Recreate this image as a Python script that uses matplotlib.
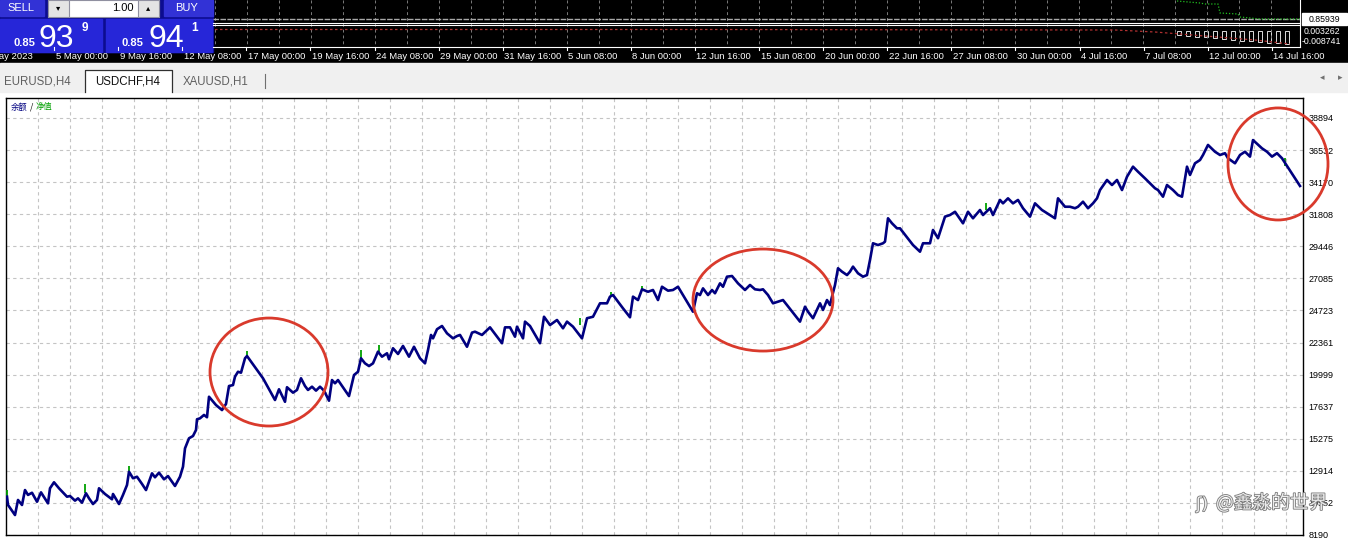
import matplotlib.pyplot as plt
import matplotlib.patheffects as pe
from matplotlib.patches import Rectangle, Ellipse
import numpy as np

W, H = 1348, 539
CJK = ['Noto Sans CJK SC', 'DejaVu Sans']
plt.rcParams['font.family'] = ['Liberation Sans', 'DejaVu Sans']

# balance curve (trade number, balance)
trade_no = [1, 2, 9, 12, 16, 19, 22, 26, 31, 35, 42, 44, 48, 53, 61, 64, 69, 72, 76, 80,
            83, 87, 91, 93, 99, 106, 107, 113, 117, 121, 123, 127, 131, 136, 140, 146, 149, 153, 158, 162,
            166, 169, 174, 177, 179, 183, 187, 190, 191, 194, 198, 201, 203, 210, 216, 220, 223, 227, 229, 232,
            235, 239, 241, 257, 269, 273, 279, 281, 287, 291, 295, 299, 302, 306, 310, 314, 318, 323, 326, 329,
            332, 337, 343, 348, 352, 355, 359, 363, 367, 372, 376, 381, 383, 387, 392, 397, 403, 408, 414, 419,
            422, 425, 427, 431, 436, 441, 447, 451, 454, 461, 466, 469, 476, 484, 496, 499, 504, 509, 511, 517,
            519, 524, 534, 538, 544, 551, 557, 561, 567, 576, 581, 587, 594, 601, 604, 607, 617, 624, 627, 632,
            636, 642, 647, 652, 656, 662, 667, 672, 687, 691, 694, 697, 702, 706, 709, 714, 717, 721, 726, 732,
            739, 744, 749, 754, 757, 762, 767, 772, 777, 781, 794, 799, 802, 807, 814, 817, 821, 824, 826, 829,
            832, 836, 841, 844, 847, 852, 857, 861, 864, 867, 872, 877, 879, 882, 886, 891, 894, 907, 914, 917,
            924, 927, 932, 939, 944, 949, 957, 962, 967, 974, 977, 984, 987, 994, 997, 1002, 1007, 1012, 1017, 1024,
            1029, 1036, 1044, 1049, 1052, 1059, 1064, 1069, 1072, 1077, 1082, 1087, 1091, 1094, 1101, 1106, 1111, 1116, 1121, 1127,
            1132, 1139, 1149, 1152, 1157, 1161, 1167, 1172, 1176, 1181, 1184, 1189, 1194, 1197, 1202, 1209, 1214, 1219, 1222, 1229,
            1234, 1239, 1244, 1247, 1256, 1261, 1266, 1271, 1276, 1294]
balance = [11010, 10400, 9660, 10770, 10400, 11500, 11140, 11300, 10640, 11330, 10520, 11630, 12070, 11630, 11010, 11060, 10720, 10890, 10570, 11260,
           10890, 10470, 10770, 11630, 11210, 10820, 11210, 10470, 11140, 11870, 12850, 12370, 12480, 11950, 11500, 12730, 12440, 12780, 12290, 12530,
           12110, 11800, 12480, 13220, 14570, 15310, 15480, 15920, 16710, 16780, 17030, 16860, 18370, 17760, 17390, 17840, 19160, 19230, 19850, 20210,
           20140, 21200, 21370, 19730, 18130, 18920, 18000, 19070, 18670, 18870, 19730, 19160, 18870, 19110, 18820, 19110, 18820, 18080, 19600, 19360,
           19600, 19070, 18420, 19970, 20210, 21200, 20830, 20630, 20830, 21690, 21320, 21570, 21130, 21940, 21520, 22110, 21320, 22050, 21200, 20830,
           21810, 22920, 22670, 23340, 23580, 23040, 22670, 22840, 22920, 22050, 23090, 23160, 22920, 23480, 22310, 23480, 23480, 22790, 23530, 22670,
           23900, 23580, 22310, 24260, 23650, 24020, 23410, 23900, 23530, 22670, 24150, 24260, 25250, 25250, 25740, 25860, 24880, 24220, 25740, 25490,
           26280, 26100, 26230, 25490, 26470, 26180, 26230, 26470, 24630, 25990, 25860, 26350, 25860, 26230, 25990, 26720, 26470, 27210, 27260, 26720,
           26230, 26600, 26280, 26230, 26280, 25860, 25250, 25370, 25490, 25120, 23900, 25000, 24630, 24150, 25250, 24760, 25490, 25120, 25740, 26600,
           27830, 27580, 27330, 27580, 27950, 27460, 27210, 27330, 28440, 29670, 29540, 29670, 29790, 31510, 31140, 30770, 30770, 29540, 29050, 29670,
           29670, 30650, 30040, 31630, 31750, 31990, 31140, 31990, 31510, 32120, 31750, 32250, 31750, 32860, 32610, 32980, 32610, 32860, 32250, 31630,
           32610, 32120, 31750, 31510, 32980, 32360, 32360, 32250, 32360, 32730, 32250, 32610, 32980, 33590, 34330, 33960, 34330, 33590, 34570, 35310,
           34940, 34450, 33720, 33590, 33100, 33960, 33590, 33220, 33100, 35310, 34700, 35560, 35800, 36170, 36910, 36410, 36170, 36300, 35930, 35560,
           36170, 36410, 36050, 37270, 36660, 36410, 36050, 36300, 35930, 33890]

# equity peaks above balance (green)
spike_no = [1, 79, 123, 241, 355, 373, 574, 605, 636, 980, 1279]
spike_lo = [10920, 11290, 12830, 21300, 21220, 21660, 23650, 25710, 26230, 32120, 35360]
spike_hi = [11500, 11950, 13270, 21740, 21810, 22180, 24170, 26080, 26520, 32630, 35950]

ytick_labels = ["8190", "10552", "12914", "15275", "17637", "19999", "22361",
                "24723", "27085", "29446", "31808", "34170", "36532", "38894"]

# circled areas: (centre trade, centre balance, width, height)
circles = [(263, 20190, 118, 7950), (757, 25490, 140, 7510), (1272, 35510, 100, 8250)]

time_labels = ["May 2023", "5 May 00:00", "9 May 16:00", "12 May 08:00", "17 May 00:00",
               "19 May 16:00", "24 May 08:00", "29 May 00:00", "31 May 16:00", "5 Jun 08:00",
               "8 Jun 00:00", "12 Jun 16:00", "15 Jun 08:00", "20 Jun 00:00", "22 Jun 16:00",
               "27 Jun 08:00", "30 Jun 00:00", "4 Jul 16:00", "7 Jul 08:00", "12 Jul 00:00",
               "14 Jul 16:00"]
tabs = ["EURUSD,H4", "USDCHF,H4", "XAUUSD,H1"]

# small price window on top (bar offset, level)
ma_x = [962, 985, 990, 1003, 1005, 1023, 1025, 1045, 1085]
ma_y = [1, 3, 4, 4, 13, 14, 17, 19, 19]
sig_x = [0, 500, 900, 940, 990, 1040, 1075]
sig_y = [29.5, 29.5, 30, 32, 36, 40, 44]
hist_x = [962, 971, 980, 989, 998, 1007, 1016, 1025, 1034, 1043, 1052, 1061, 1070]
hist_y = [35, 36, 37, 37, 38, 39, 40, 41, 41, 42, 43, 43, 44]

fig = plt.figure(figsize=(W / 100, H / 100), dpi=100)
fig.patch.set_facecolor('white')

# main balance chart
L, T, R, B = 6, 98, 1303, 535
ax = fig.add_axes([L / W, 1 - B / H, (R - L) / W, (B - T) / H])
per_px = (38894 - 8190) / (535 - 118)
ax.set_ylim(8190, 8190 + (B - T) * per_px)
ax.set_xlim(0, R - L)
ax.vlines(spike_no, spike_lo, spike_hi, color='#00a000', lw=1.3, zorder=3)
ax.plot(trade_no, balance, color='#000080', lw=1.9, solid_joinstyle='round', zorder=4)
for cx, cy, w, h in circles:
    ax.add_patch(Ellipse((cx, cy), w, h, fill=False, ec='#d93a2c', lw=2.0,
                         clip_on=False, zorder=10))

yt = [int(v) for v in ytick_labels]
ax.set_yticks(yt)
ax.set_yticklabels(ytick_labels)
ax.yaxis.tick_right()
ax.set_xticks(np.arange(32, R - L, 32))
ax.set_xticklabels([])
ax.tick_params(axis='y', length=0, pad=4, labelsize=6.5, colors='black')
ax.tick_params(axis='x', length=0)
ax.grid(True, color='#c4c4c4', lw=0.8, linestyle=(0, (3, 3)))
for s in ax.spines.values():
    s.set_color('black')
    s.set_linewidth(1.0)

# overlay in pixel coordinates for the terminal window parts
ov = fig.add_axes([0, 0, 1, 1], zorder=10)
ov.set_xlim(0, W)
ov.set_ylim(H, 0)
ov.axis('off')

ov.add_patch(Rectangle((0, 0), W, 63, color='black'))
# trade panel
ov.add_patch(Rectangle((0, 0), 213, 52, color='#0c0c90'))
ov.add_patch(Rectangle((0, 0), 44, 16, color='#3232d6'))
ov.add_patch(Rectangle((164, 0), 49, 16, color='#3232d6'))
ov.add_patch(Rectangle((48, 0), 111, 17, color='white', ec='#9090a0', lw=0.8))
ov.add_patch(Rectangle((48, 0), 21, 17, color='#e4e4e4', ec='#9090a0', lw=0.8))
ov.add_patch(Rectangle((138, 0), 21, 17, color='#e4e4e4', ec='#9090a0', lw=0.8))
ov.add_patch(Rectangle((0, 19), 102, 33, color='#2626d8'))
ov.add_patch(Rectangle((106, 19), 106, 33, color='#2626d8'))
ov.text(21, 8, "SELL", color='white', fontsize=8, ha='center', va='center')
ov.text(187, 8, "BUY", color='white', fontsize=8, ha='center', va='center')
ov.text(58, 8, "▾", color='black', fontsize=6, ha='center', va='center', family=['DejaVu Sans'])
ov.text(148, 8, "▴", color='black', fontsize=6, ha='center', va='center', family=['DejaVu Sans'])
ov.text(134, 8, "1.00", color='black', fontsize=8, ha='right', va='center')
for x0, big, sup in [(13, "93", "9"), (122, "94", "1")]:
    ov.text(x0, 46, "0.85", color='white', fontsize=8, fontweight='bold', va='baseline')
    ov.text(x0 + 26, 47, big, color='white', fontsize=23, va='baseline')
    ov.text(x0 + 69, 31, sup, color='white', fontsize=8.5, fontweight='bold', va='baseline')

# price / indicator window
for gx in range(215, 1300, 32):
    ov.plot([gx, gx], [0, 46], color='#7a7a7a', lw=0.7, ls=(0, (3, 3)))
ov.plot([213, 1300], [19, 19], color='#a8a8a8', lw=1.0, ls=(0, (4, 1)))
ov.plot([213, 1300], [22.5, 22.5], color='white', lw=0.8)
ov.plot([213, 1300], [25, 25], color='white', lw=0.8)
ov.plot([213, 1300], [46.5, 46.5], color='white', lw=0.8)
ov.plot([1300, 1300], [0, 46.5], color='white', lw=0.8)
ox = 215
ov.plot([ox + v for v in ma_x], ma_y, color='#20c020', lw=0.9, ls=(0, (1, 1.5)))
ov.plot([ox + v for v in sig_x], sig_y, color='#b03030', lw=0.9, ls=(0, (2, 2)))
for hx, hy in zip(hist_x, hist_y):
    ov.add_patch(Rectangle((ox + hx, 31), 4, hy - 31, fill=False, ec='white', lw=0.6))
ov.add_patch(Rectangle((1302, 13), 45, 12, color='white'))
ov.text(1324, 19.5, "0.85939", color='black', fontsize=6.3, ha='center', va='center')
ov.text(1304, 31, "0.003262", color='white', fontsize=6.3, va='center')
ov.text(1302, 41, "-0.008741", color='white', fontsize=6.3, va='center')

# time axis of the price window
for k, lab in enumerate(time_labels):
    tx = 54 + 64.1 * (k - 1)
    ov.plot([tx, tx], [46.5, 50], color='white', lw=0.8)
    ov.text(tx + 1.5, 56.5, lab, color='white', fontsize=6.8, va='center')

# tab bar
ov.add_patch(Rectangle((0, 63), W, 29, color='#f0f0f0'))
ov.add_patch(Rectangle((85, 70), 87, 23, color='white'))
ov.plot([85, 85, 172, 172], [92, 70, 70, 92], color='#303030', lw=0.9)
ov.text(4, 81, tabs[0], color='#606060', fontsize=8.3, va='center')
ov.text(95, 81, tabs[1], color='#101010', fontsize=8.3, va='center')
ov.text(183, 81, tabs[2], color='#606060', fontsize=8.3, va='center')
ov.plot([265, 265], [74, 88], color='#707070', lw=0.8)
ov.text(1322, 78, "◂", color='#707070', fontsize=6.5, ha='center', va='center', family=['DejaVu Sans'])
ov.text(1340, 78, "▸", color='#707070', fontsize=6.5, ha='center', va='center', family=['DejaVu Sans'])

# legend in the chart
ov.text(11, 107, "余额", color='#000080', fontsize=6, va='center', family=CJK)
ov.text(30, 107, "/", color='black', fontsize=6, va='center', family=CJK)
ov.text(36, 107, "净值", color='#00a000', fontsize=6, va='center', family=CJK)

# watermark
wm = ov.text(1216, 503, "@鑫淼的世界", color='#ececec', fontsize=13.5, va='center', family=CJK)
wm.set_path_effects([pe.withStroke(linewidth=1.2, foreground='#7a7a7a')])
ic = ov.text(1196, 504, "ʃ)", color='#ececec', fontsize=12, va='center', family=['DejaVu Sans'])
ic.set_path_effects([pe.withStroke(linewidth=1.2, foreground='#7a7a7a')])

fig.savefig('out.png', dpi=100)
